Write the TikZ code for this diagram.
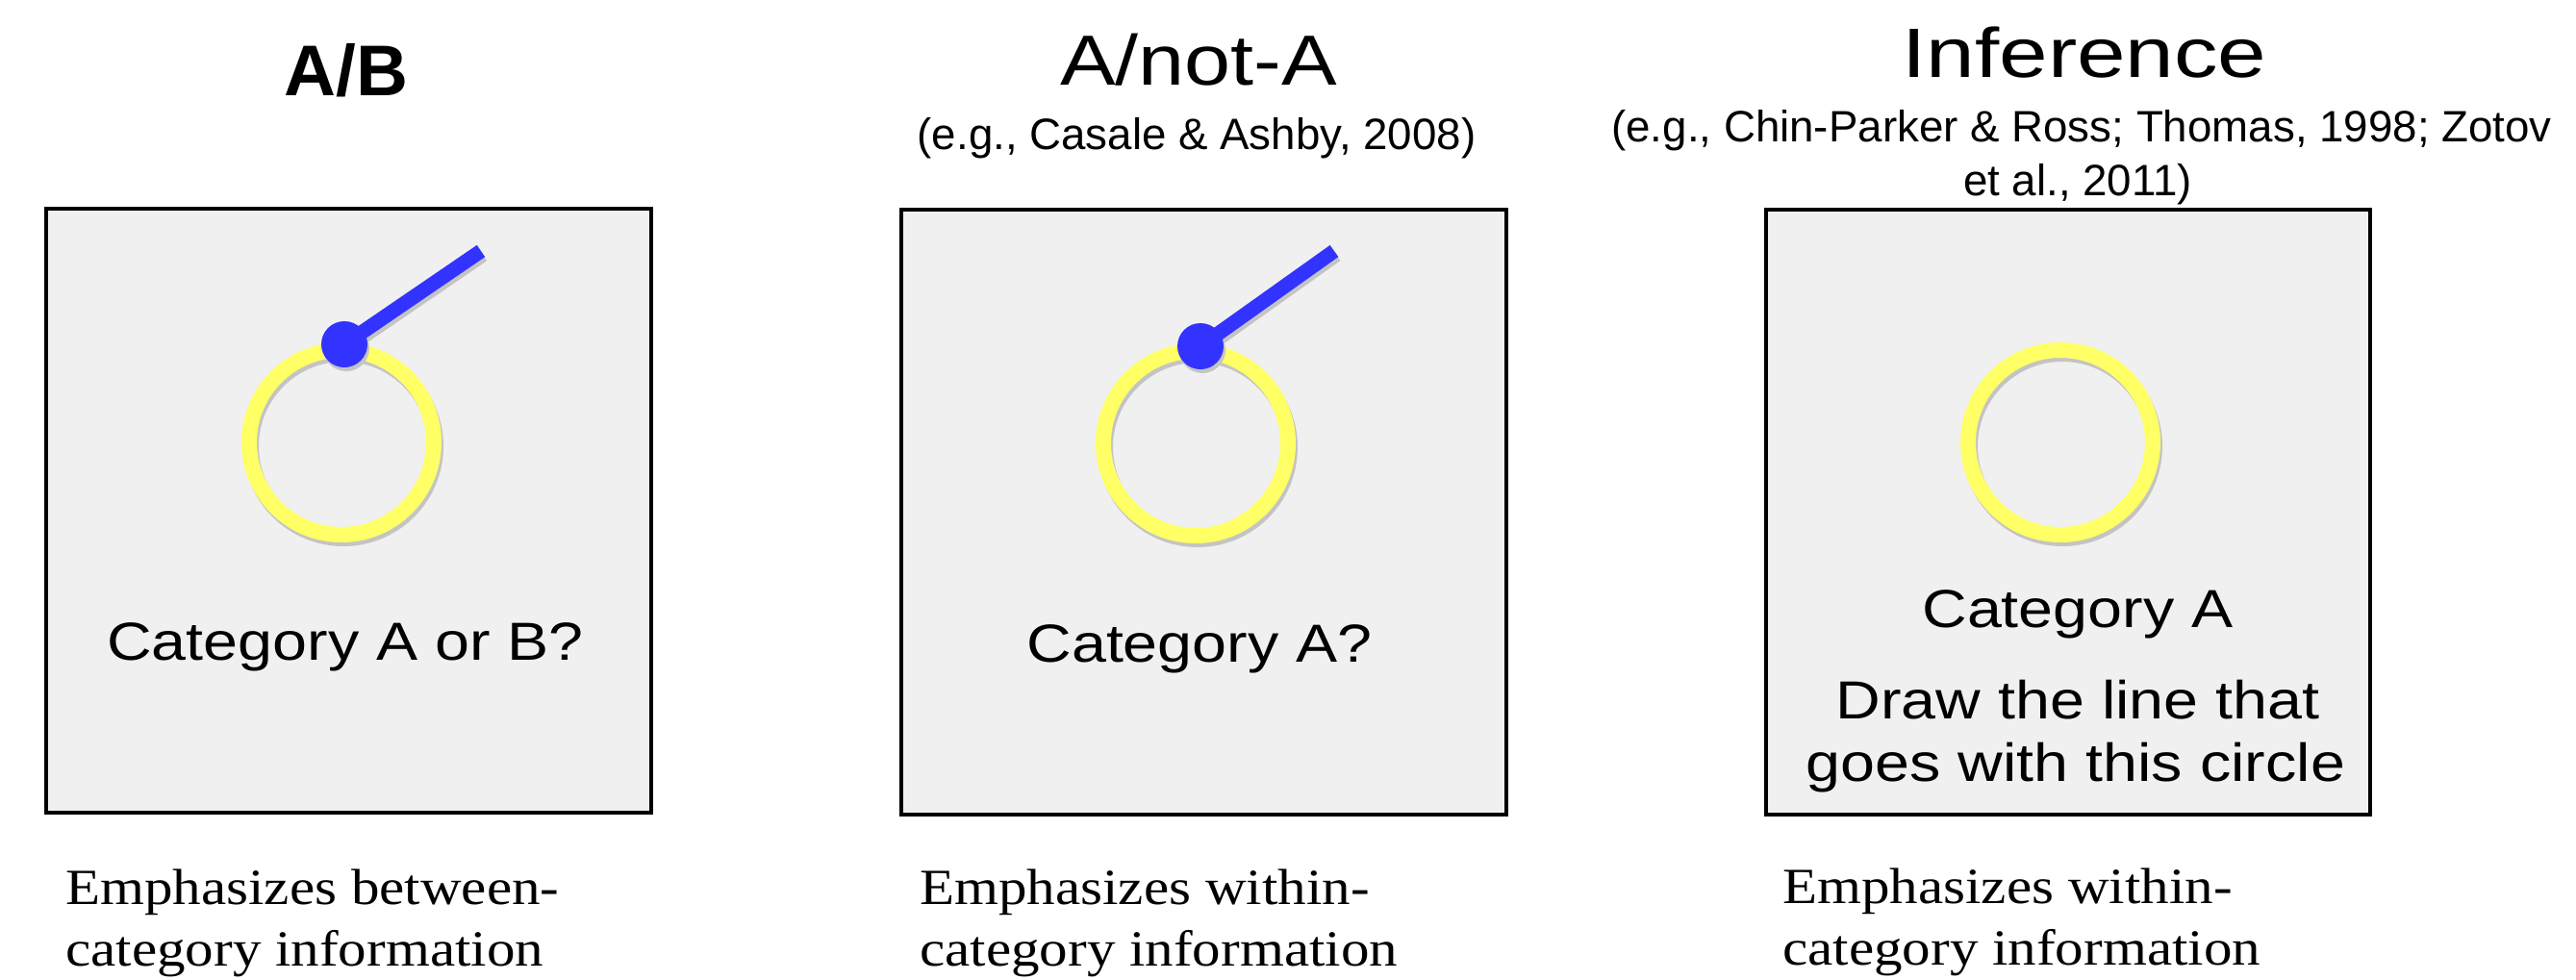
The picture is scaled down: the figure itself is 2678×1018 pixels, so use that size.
\documentclass[tikz,border=0pt]{standalone}
\usepackage{fontspec}
\setmainfont{Liberation Serif}
\setsansfont{Liberation Sans}
\newfontfamily\titleA[FakeStretch=1.17]{Liberation Sans}
\newfontfamily\titleB[FakeStretch=1.25]{Liberation Sans}
\newfontfamily\catfont[FakeStretch=1.16]{Liberation Sans}
\newfontfamily\notefont[FakeStretch=1.12]{Liberation Serif}
\definecolor{boxgray}{HTML}{F0F0F0}
\definecolor{ringyellow}{HTML}{FFFF66}
\definecolor{stickblue}{HTML}{3333FF}
\definecolor{shadowgray}{HTML}{C4C4C4}
\begin{document}
\begin{tikzpicture}[x=0.02cm, y=-0.02cm,
  panel/.style={draw=black, line width=2.55pt, fill=boxgray},
  ring/.style={draw=ringyellow, line width=9.1pt},
  ringshadow/.style={draw=shadowgray, line width=9.1pt},
  stick/.style={draw=stickblue, line width=8.5pt},
  stickshadow/.style={draw=shadowgray, line width=8.5pt},
  bigtitle/.style={anchor=base, inner sep=0pt},
  cite/.style={anchor=base, inner sep=0pt, font=\sffamily\fontsize{26}{31.7}\selectfont},
  cat/.style={anchor=base, inner sep=0pt, font=\catfont\fontsize{31.7}{37}\selectfont},
  note/.style={anchor=base west, inner sep=0pt, font=\notefont\fontsize{30}{36}\selectfont}
]
\useasboundingbox (0,0) rectangle (2678,1018);

% ---------- titles ----------
\node[bigtitle, font=\sffamily\bfseries\fontsize{42.5}{50}\selectfont] (t1) at (360,99) {A/B};
\node[bigtitle, font=\titleA\fontsize{42}{50}\selectfont] (t2) at (1246,88) {A/not-A};
\node[bigtitle, font=\titleB\fontsize{41.4}{50}\selectfont] (t3) at (2167,80) {Inference};
\node[cite] (c2) at (1244,155) {(e.g., Casale \& Ashby, 2008)};
\node[cite] (c3a) at (2164,147) {(e.g., Chin-Parker \& Ross; Thomas, 1998; Zotov};
\node[cite] (c3b) at (2160,203) {et al., 2011)};

% ---------- panels ----------
\draw[panel] (48,217) rectangle (677,845);
\draw[panel] (937,218) rectangle (1566,847);
\draw[panel] (1836,218) rectangle (2464,847);

% ---------- panel 1 ----------
\coordinate (r1) at (355,460);
\coordinate (d1) at (358,358);
\coordinate (e1) at (500,261);
\draw[ringshadow] ([shift={(2,4)}]r1) circle[radius=96];
\draw[ring] (r1) circle[radius=96];
\draw[stickshadow] ([shift={(2,4)}]d1) -- ([shift={(2,4)}]e1);
\fill[shadowgray] ([shift={(2,4)}]d1) circle[radius=24];
\draw[stick] (d1) -- (e1);
\fill[stickblue] (d1) circle[radius=24];
\node[cat] (k1) at (359,686) {Category A or B?};

% ---------- panel 2 ----------
\coordinate (r2) at (1243,461);
\coordinate (d2) at (1248,360);
\coordinate (e2) at (1387,261);
\draw[ringshadow] ([shift={(2,4)}]r2) circle[radius=96];
\draw[ring] (r2) circle[radius=96];
\draw[stickshadow] ([shift={(2,4)}]d2) -- ([shift={(2,4)}]e2);
\fill[shadowgray] ([shift={(2,4)}]d2) circle[radius=24];
\draw[stick] (d2) -- (e2);
\fill[stickblue] (d2) circle[radius=24];
\node[cat] (k2) at (1247,688) {Category A?};

% ---------- panel 3 ----------
\coordinate (r3) at (2142,460);
\draw[ringshadow] ([shift={(2,4)}]r3) circle[radius=96];
\draw[ring] (r3) circle[radius=96];
\node[cat] (k3) at (2160,652) {Category A};
\node[cat] (k3b) at (2160,747) {Draw the line that};
\node[cat] (k3c) at (2158,812) {goes with this circle};

% ---------- notes ----------
\node[note] (n1a) at (68,940) {Emphasizes between-};
\node[note] (n1b) at (68,1004) {category information};
\node[note] (n2a) at (956,940) {Emphasizes within-};
\node[note] (n2b) at (956,1004) {category information};
\node[note] (n3a) at (1853,939) {Emphasizes within-};
\node[note] (n3b) at (1853,1003) {category information};
\end{tikzpicture}
\end{document}
